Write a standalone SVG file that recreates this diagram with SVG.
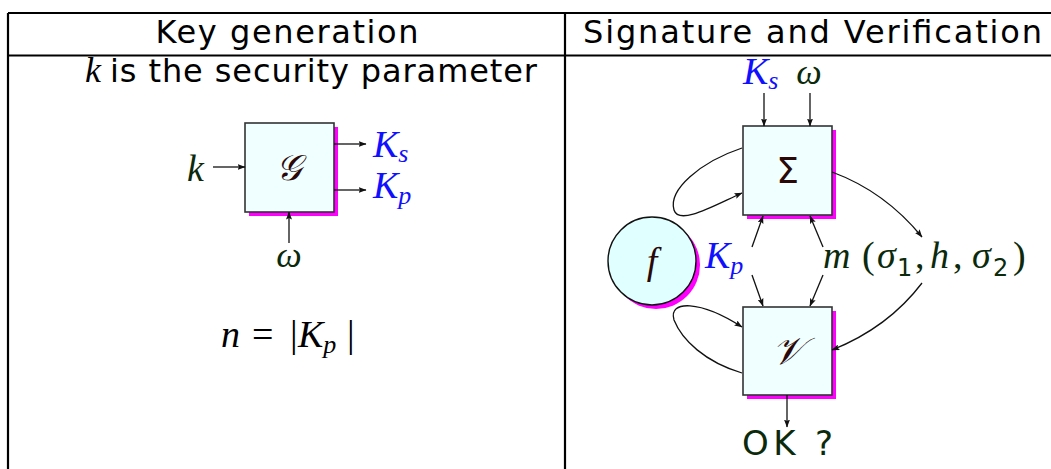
<svg xmlns="http://www.w3.org/2000/svg" width="1051" height="469" viewBox="0 0 1051 469">
<defs>
<marker id="ah" viewBox="0 0 8 6" refX="7.5" refY="3" markerWidth="8" markerHeight="6" markerUnits="userSpaceOnUse" orient="auto">
<path d="M0,0 L8,3 L0,6 L1.5,3 z" fill="#111"/>
</marker>
<style>
.tbl{stroke:#000;stroke-width:2.2;fill:none}
.hdr{font-family:"DejaVu Sans",sans-serif;font-size:32px;fill:#000}
.sans{font-family:"DejaVu Sans",sans-serif;fill:#0b2a0b}
.mi{font-family:"Liberation Serif",serif;font-style:italic;fill:#0b2a0b}
.mb{font-family:"Liberation Serif",serif;font-style:italic;fill:#1010ff}
.up{font-style:normal}
.sub{font-family:"DejaVu Sans",sans-serif;font-style:normal;font-size:24px}
.box{fill:#f0ffff;stroke:#333;stroke-width:1.6}
.shadow{fill:#ff00ff}
.glyph{fill:#2a0808;text-anchor:middle}
.c{fill:none;stroke:#111;stroke-width:1.3;marker-end:url(#ah)}
</style>
</defs>

<g id="table">
<path class="tbl" d="M8,13 H1051 M8,55.5 H1051 M8,13 V469 M565,13 V469"/>
<text class="hdr" x="287" y="43" text-anchor="middle" textLength="263" lengthAdjust="spacing">Key generation</text>
<text class="hdr" x="812.5" y="43" text-anchor="middle" textLength="459" lengthAdjust="spacing">Signature and Verification</text>
<text class="mi" x="85" y="82" font-size="36" style="fill:#000">k</text>
<text class="hdr" x="110" y="82" textLength="427" lengthAdjust="spacing">is the security parameter</text>
</g>

<g id="G">
<rect class="shadow" x="249" y="127" width="89" height="89"/>
<rect class="box" x="245" y="123" width="89" height="89"/>
<text class="glyph" x="289" y="180" font-family="Liberation Serif, serif" font-style="italic" font-size="36">𝒢</text>
</g>

<g id="k-label"><text class="mi" x="187" y="181" font-size="38">k</text></g>
<g id="Ks-left"><text class="mb" x="373" y="157" font-size="38">K<tspan font-size="26" dy="5">s</tspan></text></g>
<g id="Kp-left"><text class="mb" x="373" y="198" font-size="38">K<tspan font-size="26" dy="6">p</tspan></text></g>
<g id="omega-left"><text class="mi" x="289" y="267" font-size="36" text-anchor="middle">ω</text></g>

<g id="n-eq">
<text class="mi" x="221" y="347" font-size="38" style="fill:#000">n<tspan class="up" x="252">=</tspan><tspan class="up" x="290">|</tspan><tspan x="298">K</tspan><tspan font-size="26" dy="6">p</tspan><tspan class="up" x="347" dy="-6">|</tspan></text>
</g>

<g id="Sigma">
<rect class="shadow" x="747" y="130" width="89" height="89"/>
<rect class="box" x="743" y="126" width="89" height="89"/>
<text class="glyph" x="787.5" y="183" font-family="DejaVu Sans, sans-serif" font-size="36">Σ</text>
</g>

<g id="V">
<rect class="shadow" x="747" y="311" width="89" height="88"/>
<rect class="box" x="743" y="307" width="89" height="88"/>
<text class="glyph" x="787.5" y="364" font-family="Liberation Serif, serif" font-style="italic" font-size="38">𝒱</text>
</g>

<g id="f">
<circle class="shadow" cx="656" cy="265" r="44"/>
<circle cx="652" cy="261" r="44" fill="#e0ffff" stroke="#111" stroke-width="1.4"/>
<text class="glyph" x="652" y="274" font-family="Liberation Serif, serif" font-style="italic" font-size="38">f</text>
</g>

<g id="Ks-top"><text class="mb" x="743" y="84" font-size="38">K<tspan font-size="26" dy="5">s</tspan></text></g>
<g id="omega-top"><text class="mi" x="809" y="84" font-size="36" text-anchor="middle">ω</text></g>
<g id="Kp-mid"><text class="mb" x="705" y="268" font-size="38">K<tspan font-size="26" dy="6">p</tspan></text></g>
<g id="m-label">
<text class="mi" x="823" y="268" font-size="38">m<tspan class="up" x="862">(</tspan><tspan x="877">σ</tspan><tspan class="sub" x="897" dy="8">1</tspan><tspan class="up" x="915" dy="-8">,</tspan><tspan x="930">h</tspan><tspan class="up" x="953">,</tspan><tspan x="972">σ</tspan><tspan class="sub" x="993" dy="8">2</tspan><tspan class="up" x="1013" dy="-8">)</tspan></text>
</g>
<g id="ok"><text class="sans" x="742" y="455" font-size="34" textLength="91" lengthAdjust="spacing">OK ?</text></g>

<g id="connectors">
<path class="c" d="M213,167 H245"/>
<path class="c" d="M334,144 H366"/>
<path class="c" d="M334,190 H366"/>
<path class="c" d="M289,243 V212"/>
<path class="c" d="M764,93 V126"/>
<path class="c" d="M810,93 V126"/>
<path class="c" d="M742,148 C700,162 668,190 674,210 C679,226 715,205 742,193"/>
<path class="c" d="M752,247 L763,216"/>
<path class="c" d="M752,275 L763,306"/>
<path class="c" d="M823,247 L810,216"/>
<path class="c" d="M823,275 L810,306"/>
<path class="c" d="M832,172 C870,186 900,210 922,237"/>
<path class="c" d="M922,283 C900,312 872,334 832,350"/>
<path class="c" d="M742,373 C705,362 682,340 674,320 C668,300 700,300 742,327"/>
<path class="c" d="M787,395 V427"/>
</g>
</svg>
